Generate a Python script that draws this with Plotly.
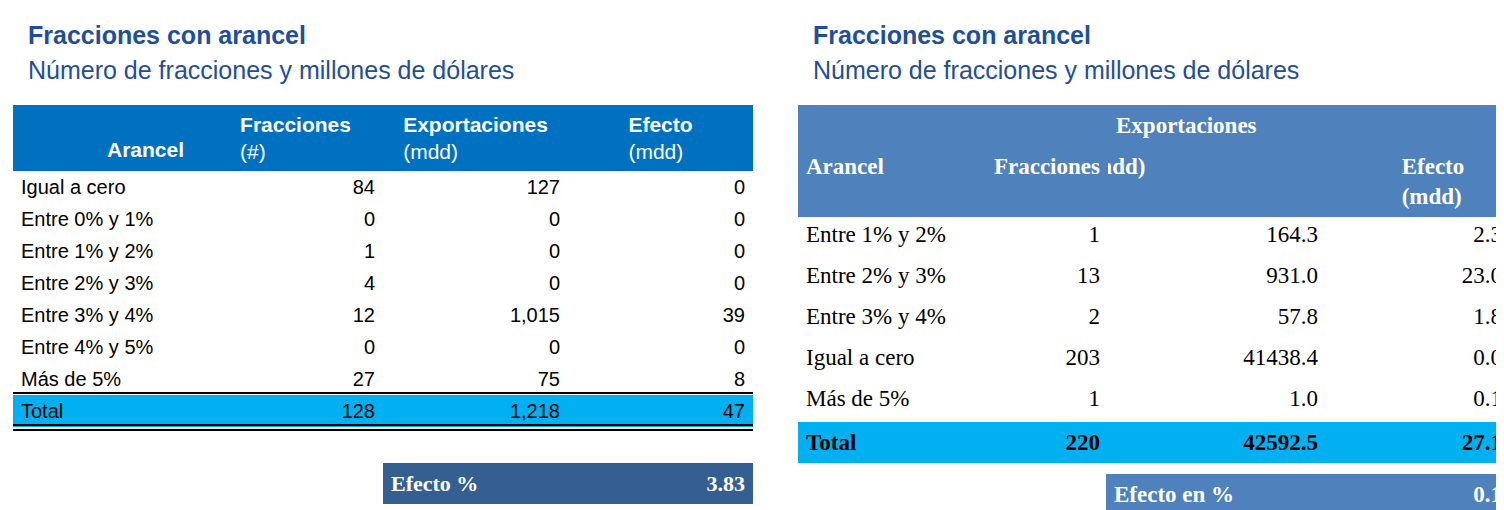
import plotly.graph_objects as go

W, H = 1504, 510

# ---- left table data ----
left_cols = ["Arancel", "Fracciones", "Exportaciones", "Efecto"]
left_units = ["", "(#)", "(mdd)", "(mdd)"]
left_cats = ["Igual a cero", "Entre 0% y 1%", "Entre 1% y 2%", "Entre 2% y 3%",
             "Entre 3% y 4%", "Entre 4% y 5%", "Más de 5%", "Total"]
left_fracc = [84, 0, 1, 4, 12, 0, 27, 128]
left_export = [127, 0, 0, 0, 1015, 0, 75, 1218]
left_efecto = [0, 0, 0, 0, 39, 0, 8, 47]
left_pct_label = "Efecto %"
left_pct = 3.83

# ---- right table data ----
right_cols = ["Arancel", "Fracciones", "(mdd)", "Efecto (mdd)"]
right_cats = ["Entre 1% y 2%", "Entre 2% y 3%", "Entre 3% y 4%", "Igual a cero", "Más de 5%", "Total"]
right_fracc = [1, 13, 2, 203, 1, 220]
right_export = [164.3, 931.0, 57.8, 41438.4, 1.0, 42592.5]
right_efecto = [2.3, 23.0, 1.8, 0.0, 0.1, 27.1]
right_pct_label = "Efecto en %"
right_pct = 0.1

title = "Fracciones con arancel"
subtitle = "Número de fracciones y millones de dólares"

BLUE = "#0070C0"
BLUE2 = "#4F81BD"
NAVY = "#365F91"
CYAN = "#00B0F0"
FONT = "Liberation Sans"
NARROW = "Liberation Sans Narrow"
NB = "&nbsp;"


def px(x):
    return x / W


def py(y):
    return 1 - y / H


fig = go.Figure()

# left table
n = len(left_cats)
fill_left = [["white"] * (n - 1) + [CYAN]] * 4
fig.add_trace(go.Table(
    domain=dict(x=[px(5), px(745)], y=[0, py(97)]),
    columnwidth=[195, 175, 185, 185],
    header=dict(
        values=[""] + [f"<b>{c}</b><br>{u}" for c, u in zip(left_cols[1:], left_units[1:])],
        fill_color=BLUE, line=dict(width=0), height=63, align="center",
        font=dict(family=FONT, size=21, color="white")),
    cells=dict(
        values=[left_cats, left_fracc, [f"{v:,}" for v in left_export], left_efecto],
        fill_color=fill_left, line=dict(width=0), height=32,
        align=["left", "right", "right", "right"],
        font=dict(family=FONT, size=20, color="black")),
))

fig.add_trace(go.Table(
    domain=dict(x=[px(375), px(745)], y=[0, py(455)]),
    columnwidth=[200, 170],
    header=dict(values=[f"<b>{left_pct_label}</b>", f"<b>{left_pct:.2f}</b>"],
                fill_color=NAVY, line=dict(width=0), height=32,
                align=["left", "right"], font=dict(family=NARROW, size=22, color="white")),
    cells=dict(values=[[], []], line=dict(width=0), height=0),
))

# right table
m = len(right_cats)
fill_right = [[BLUE2] + ["white"] * (m - 1) + [CYAN]] * 4
r_vals = [
    [f"<b>{right_cols[0]}</b>"] + right_cats[:-1] + [f"<b>{right_cats[-1]}</b>"],
    [f"<b>{right_cols[1]}</b>"] + [str(v) for v in right_fracc[:-1]] + [f"<b>{right_fracc[-1]}</b>"],
    [f"<b>{right_cols[2]}</b>" + NB * 30] + [f"{v:.1f}" for v in right_export[:-1]] + [f"<b>{right_export[-1]:.1f}</b>"],
    [f"<b>{right_cols[3]}</b>" + NB * 7] + [f"{v:.1f}" for v in right_efecto[:-1]] + [f"<b>{right_efecto[-1]:.1f}</b>"],
]
fcol = [["white"] + ["black"] * (m - 1) + ["black"]] * 4
fig.add_trace(go.Table(
    domain=dict(x=[px(790), px(1502)], y=[0, py(97)]),
    columnwidth=[180, 130, 218, 184],
    header=dict(values=["", "", "<b>Exportaciones</b>", ""],
                fill_color=BLUE2, line=dict(width=0), height=41, align="left",
                font=dict(family=NARROW, size=23, color="white")),
    cells=dict(values=r_vals, fill_color=fill_right, line=dict(width=0), height=41,
               align=["left", "right", "right", "right"],
               font=dict(family=NARROW, size=23, color=fcol)),
))

fig.add_trace(go.Table(
    domain=dict(x=[px(1098), px(1502)], y=[0, py(466)]),
    columnwidth=[250, 154],
    header=dict(values=[f"<b>{right_pct_label}</b>", f"<b>{right_pct}</b>"],
                fill_color=BLUE2, line=dict(width=0), height=41,
                align=["left", "right"], font=dict(family=NARROW, size=23, color="white")),
    cells=dict(values=[[], []], line=dict(width=0), height=0),
))

annotations = []
for x0 in (18, 803):
    annotations.append(dict(x=px(x0), y=py(27), text=f"<b>{title}</b>", showarrow=False,
                            xanchor="left", yanchor="middle", xref="paper", yref="paper",
                            font=dict(family=FONT, size=25, color="#1F4E9A")))
    annotations.append(dict(x=px(x0), y=py(62), text=subtitle, showarrow=False,
                            xanchor="left", yanchor="middle", xref="paper", yref="paper",
                            font=dict(family=FONT, size=25, color="#1F4E9A")))
annotations.append(dict(x=px(97), y=py(128), text=f"<b>{left_cols[0]}</b>", showarrow=False,
                        xref="paper", yref="paper", font=dict(family=FONT, size=21, color="white")))

shapes = []
for yy, w in ((385, 2), (417, 2), (422, 2)):
    shapes.append(dict(type="line", xref="paper", yref="paper", x0=px(5), x1=px(745),
                       y0=py(yy), y1=py(yy), line=dict(color="black", width=w)))

fig.update_layout(width=W, height=H, margin=dict(l=0, r=0, t=0, b=0),
                  paper_bgcolor="white", annotations=annotations, shapes=shapes)

fig.write_html("out.html")
